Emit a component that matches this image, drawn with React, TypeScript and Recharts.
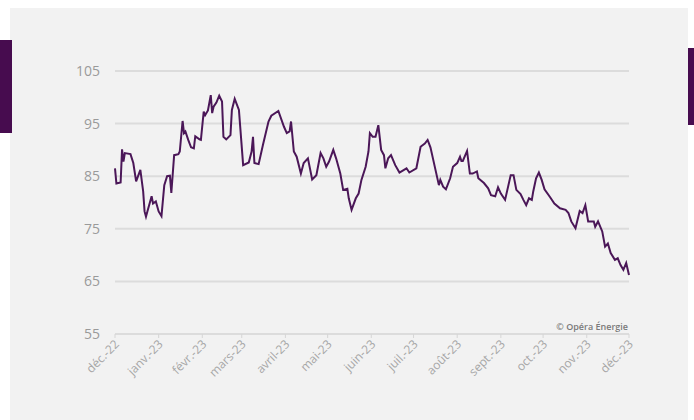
import React from "react";
import { LineChart, Line, XAxis, YAxis, CartesianGrid } from "recharts";

// day offset from 1 Dec 2022
const days = [
  0, 1, 4, 5, 6, 7, 11, 13, 15, 18, 20, 21, 22, 23, 26, 27, 29, 31, 33, 35, 37, 39, 40, 42, 45, 46, 48, 49, 50,
  52, 54, 56, 57, 60, 61, 63, 64, 66, 68, 69, 70, 72, 74, 76, 77, 79, 82, 83, 85, 88, 91, 95, 97, 98, 99, 102,
  105, 109, 111, 116, 120, 122, 124, 125, 127, 129, 132, 134, 137, 140, 143, 146, 148, 150, 152, 155, 157, 160,
  162, 165, 166, 168, 171, 173, 175, 178, 180, 181, 183, 185, 187, 189, 191, 192, 194, 196, 199, 202, 207, 209,
  214, 217, 220, 222, 224, 226, 230, 231, 233, 235, 238, 240, 243, 245, 246, 247, 250, 252, 254, 257, 258, 262,
  265, 267, 270, 272, 274, 277, 281, 283, 285, 288, 290, 292, 294, 296, 297, 299, 301, 303, 305, 309, 312, 316,
  320, 322, 324, 327, 330, 332, 334, 336, 340, 341, 343, 346, 348, 350, 352, 355, 357, 359, 361, 363, 365,
];
const prices = [
  86.5, 83.6, 83.8, 90.1, 87.8, 89.4, 89.2, 87.5, 84.0, 86.2, 82.1, 78.3, 77.3, 78.3, 81.2, 79.8, 80.2, 78.3,
  77.4, 83.3, 85.0, 85.1, 81.8, 89.0, 89.2, 89.7, 95.5, 93.2, 93.5, 91.9, 90.5, 90.3, 92.6, 92.0, 91.9, 97.3,
  96.6, 97.5, 100.4, 97.0, 98.2, 99.0, 100.3, 99.2, 92.5, 92.0, 92.8, 97.6, 99.7, 97.6, 87.1, 87.6, 89.7, 92.5,
  87.5, 87.3, 90.9, 95.4, 96.5, 97.4, 94.4, 93.2, 93.5, 95.4, 89.7, 88.7, 85.5, 87.5, 88.4, 84.4, 85.2, 89.4,
  88.4, 86.8, 87.8, 90.0, 88.4, 85.5, 82.4, 82.6, 80.8, 78.6, 80.8, 81.7, 84.3, 86.8, 89.7, 93.2, 92.5, 92.5,
  94.7, 90.0, 89.0, 86.5, 88.4, 89.0, 87.1, 85.7, 86.5, 85.7, 86.5, 90.6, 91.2, 91.9, 90.5, 88.1, 83.3, 84.3,
  83.0, 82.5, 84.6, 86.8, 87.5, 88.7, 87.9, 87.9, 89.8, 85.5, 85.5, 85.9, 84.6, 83.7, 82.7, 81.4, 81.2, 82.9,
  81.7, 80.5, 85.2, 85.2, 82.4, 81.6, 80.5, 79.5, 80.8, 80.5, 82.1, 84.6, 85.7, 84.3, 82.5, 81.0, 79.8, 78.9,
  78.6, 78.0, 76.4, 75.1, 78.4, 78.0, 79.5, 76.4, 76.4, 75.4, 76.4, 74.5, 71.6, 72.2, 70.4, 69.1, 69.4, 68.1,
  67.2, 68.5, 66.2,
];
const monthTicks = [0, 31, 62, 90, 121, 151, 182, 212, 243, 274, 304, 335, 365];
const monthLabels = [
  "déc.-22", "janv.-23", "févr.-23", "mars-23", "avril-23", "mai-23", "juin-23",
  "juil.-23", "août-23", "sept.-23", "oct.-23", "nov.-23", "déc.-23",
];
const yTicks = [55, 65, 75, 85, 95, 105];

const data = days.map((d, i) => ({ d, v: prices[i] }));

const FONT = "'Open Sans', 'Noto Sans', sans-serif";

const XTick = (props: any) => {
  const { x, y, payload } = props;
  const idx = monthTicks.indexOf(payload.value);
  return (
    <g transform={`translate(${x},${y})`}>
      <text
        x={0}
        y={0}
        dy={7}
        textAnchor="end"
        transform="rotate(-45)"
        fill="#a6a6a6"
        fontSize={12}
        fontFamily={FONT}
      >
        {monthLabels[idx]}
      </text>
    </g>
  );
};

export default function App() {
  return (
    <div style={{ position: "absolute", left: 0, top: 0, width: 694, height: 420, background: "#ffffff", overflow: "hidden" }}>
      <div style={{ position: "absolute", left: 10, top: 8, width: 678, height: 412, background: "#f2f2f2" }} />
      <div style={{ position: "absolute", left: 0, top: 40, width: 12, height: 93, background: "#470c4f" }} />
      <div style={{ position: "absolute", left: 688, top: 48, width: 6, height: 77, background: "#470c4f" }} />
      <div style={{ position: "absolute", left: 0, top: 0 }}>
        <LineChart width={694} height={420} data={data} margin={{ top: 71, right: 65, bottom: 26, left: 75 }}>
          <CartesianGrid horizontal vertical={false} stroke="#dcdcdc" strokeWidth={2} />
          <XAxis
            dataKey="d"
            type="number"
            domain={[0, 365]}
            ticks={monthTicks}
            interval={0}
            tick={<XTick />}
            axisLine={{ stroke: "#dcdcdc", strokeWidth: 2 }}
            tickLine={{ stroke: "#d6d6d6" }}
            tickSize={4}
            tickMargin={2}
            height={60}
          />
          <YAxis
            type="number"
            domain={[55, 105]}
            ticks={yTicks}
            interval={0}
            width={40}
            axisLine={false}
            tickLine={false}
            tickSize={6}
            tickMargin={9}
            tick={{ fill: "#9a9a9a", fontSize: 14, fontFamily: FONT }}
          />
          <Line
            type="linear"
            dataKey="v"
            stroke="#4b1758"
            strokeWidth={2}
            dot={false}
            activeDot={false}
            isAnimationActive={false}
          />
        </LineChart>
      </div>
      <div
        style={{
          position: "absolute",
          right: 66,
          top: 320,
          fontSize: 9,
          fontWeight: 600,
          color: "#7a7a7a",
          fontFamily: FONT,
          whiteSpace: "nowrap",
        }}
      >
        © Opéra Énergie
      </div>
    </div>
  );
}
